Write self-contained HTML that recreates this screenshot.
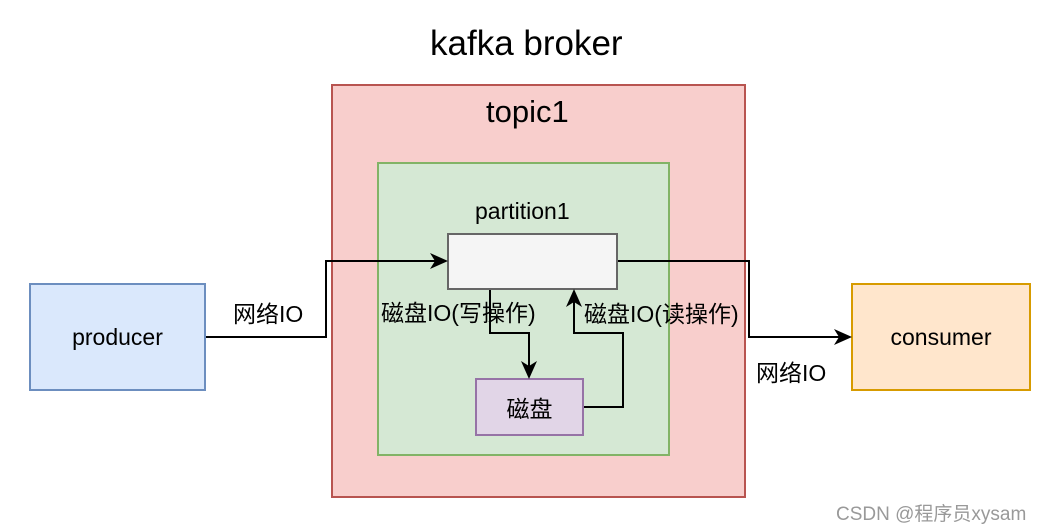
<!DOCTYPE html>
<html><head><meta charset="utf-8"><style>
body{margin:0;width:1050px;height:530px;background:#fff;position:relative;font-family:"Liberation Sans","Noto Sans CJK SC",sans-serif;overflow:hidden}
.b{position:absolute;box-sizing:border-box;display:flex;align-items:center;justify-content:center;font-size:23px;color:#000}
.t{position:absolute;white-space:nowrap;color:#000}
</style></head><body>
<div class="t" style="left:430px;top:24px;font-size:35px">kafka broker</div>
<div class="b" style="left:331px;top:84px;width:415px;height:414px;background:#f8cecc;border:2px solid #b85450"></div>
<div class="t" style="left:486px;top:94px;font-size:31px">topic1</div>
<div class="b" style="left:377px;top:162px;width:293px;height:294px;background:#d5e8d4;border:2px solid #82b366"></div>
<div class="t" style="left:475px;top:198px;font-size:23px">partition1</div>
<div class="b" style="left:447px;top:233px;width:171px;height:57px;background:#f5f5f5;border:2px solid #666"></div>
<div class="b" style="left:475px;top:378px;width:109px;height:58px;background:#e1d5e7;border:2px solid #9673a6">磁盘</div>
<div class="b" style="left:29px;top:283px;width:177px;height:108px;background:#dae8fc;border:2px solid #6c8ebf">producer</div>
<div class="b" style="left:851px;top:283px;width:180px;height:108px;background:#ffe6cc;border:2px solid #d79b00">consumer</div>
<svg style="position:absolute;left:0;top:0" width="1050" height="530">
<g fill="none" stroke="#000" stroke-width="2">
<path d="M206 337H326V261H437"/>
<path d="M618 261H749V337H841"/>
<path d="M490 290V333H529V368"/>
<path d="M584 407H623V333H574V299"/>
</g>
<g fill="#000">
<path d="M448 261l-18-8 5 8-5 8z"/>
<path d="M852 337l-18-8 5 8-5 8z"/>
<path d="M529 379l-8-18 8 5 8-5z"/>
<path d="M574 289l-8 18 8-5 8 5z"/>
</g>
</svg>
<div class="t" style="left:233px;top:295px;font-size:23px;background:#fff">网络IO</div>
<div class="t" style="left:756px;top:354px;font-size:23px;background:#fff">网络IO</div>
<div class="t" style="left:381px;top:294px;font-size:23px">磁盘IO(写操作)</div>
<div class="t" style="left:584px;top:295px;font-size:23px">磁盘IO(读操作)</div>
<div class="t" style="left:836px;top:499px;font-size:19px;color:#999">CSDN @程序员xysam</div>
</body></html>
